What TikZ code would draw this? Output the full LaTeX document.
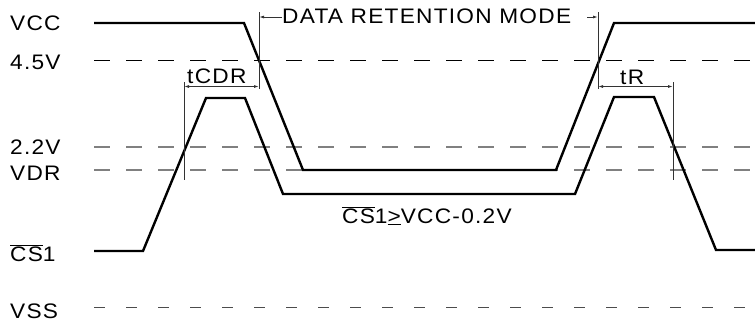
\documentclass[tikz,border=0pt]{standalone}
\usepackage{fontspec}
\setmainfont{Liberation Sans}[FakeStretch=1.08, LetterSpace=6]
\usetikzlibrary{arrows.meta}

\begin{document}
\begin{tikzpicture}[x=1pt,y=-1pt,
  lbl/.style={anchor=base west, inner sep=0pt, font=\fontsize{21}{23}\selectfont, text=black},
  wave/.style={line width=2.4pt, line join=miter, black},
  level/.style={line width=1.3pt, dash pattern=on 16pt off 16pt},
  faint/.style={level, black!50},
  ground/.style={line width=1pt, black!70, dash pattern=on 11pt off 21pt},
  dim/.style={line width=0.9pt, black!80},
  dimarrow/.style={dim, {Latex[length=5pt,width=3pt]}-{Latex[length=5pt,width=3pt]}},
  tip/.style={dim, -{Latex[length=5pt,width=3pt]}}]

\useasboundingbox (0,0) rectangle (755,322);

% supply / threshold levels
\draw[level]  (94,60.5) -- (755,60.5);
\draw[faint]  (94,147)  -- (755,147);
\draw[faint]  (94,170)  -- (755,170);
\draw[ground] (94,307.5) -- (755,307.5);

% signal names
\node[lbl] (nvcc) at (10,30)  {VCC};
\node[lbl] (n45)  at (10,69)  {4.5V};
\node[lbl] (n22)  at (10,154) {2.2V};
\node[lbl] (nvdr) at (10,180) {VDR};
\node[lbl] (ncs)  at (10,261) {$\overline{\hbox{CS}}$1};
\node[lbl] (nvss) at (10,318) {VSS};

% VCC waveform
\draw[wave] (94,23) -- (244,23) -- (303,170) -- (556,170) -- (614,23) -- (755,23);

% chip-select waveform
\draw[wave] (94,251) -- (143,251) -- (206,98) -- (245,98) -- (283,194)
  -- (575,194) -- (614,97) -- (654,97) -- (716,250) -- (755,250);

% timing marks
\coordinate (a0) at (184,82);  \coordinate (a1) at (184,180);
\coordinate (b0) at (259,12);  \coordinate (b1) at (259,89);
\coordinate (c0) at (598,12);  \coordinate (c1) at (598,89);
\coordinate (d0) at (673,82);  \coordinate (d1) at (673,180);
\draw[dim] (a0) -- (a1);
\draw[dim] (b0) -- (b1);
\draw[dim] (c0) -- (c1);
\draw[dim] (d0) -- (d1);

\coordinate (t1) at (184,86.5); \coordinate (t2) at (259,86.5);
\coordinate (r1) at (598,86.5); \coordinate (r2) at (673,86.5);
\draw[dimarrow] (t1) -- (t2);
\draw[dimarrow] (r1) -- (r2);
\node[lbl] (tcdr) at (187,83) {tCDR};
\node[lbl] (tr)   at (620,84) {tR};

% data retention span
\node[lbl] (drm) at (282,23) {DATA RETENTION MODE};
\coordinate (m0) at (259,17);
\coordinate (m1) at (282,17);
\coordinate (m2) at (587,17);
\coordinate (m3) at (598,17);
\draw[tip] (m1) -- (m0);
\draw[tip] (m2) -- (m3);

% retention condition
\node[lbl] (cond) at (342,223) {$\overline{\hbox{CS}}$1$\underline{\hbox{>}}$VCC-0.2V};
\end{tikzpicture}
\end{document}
